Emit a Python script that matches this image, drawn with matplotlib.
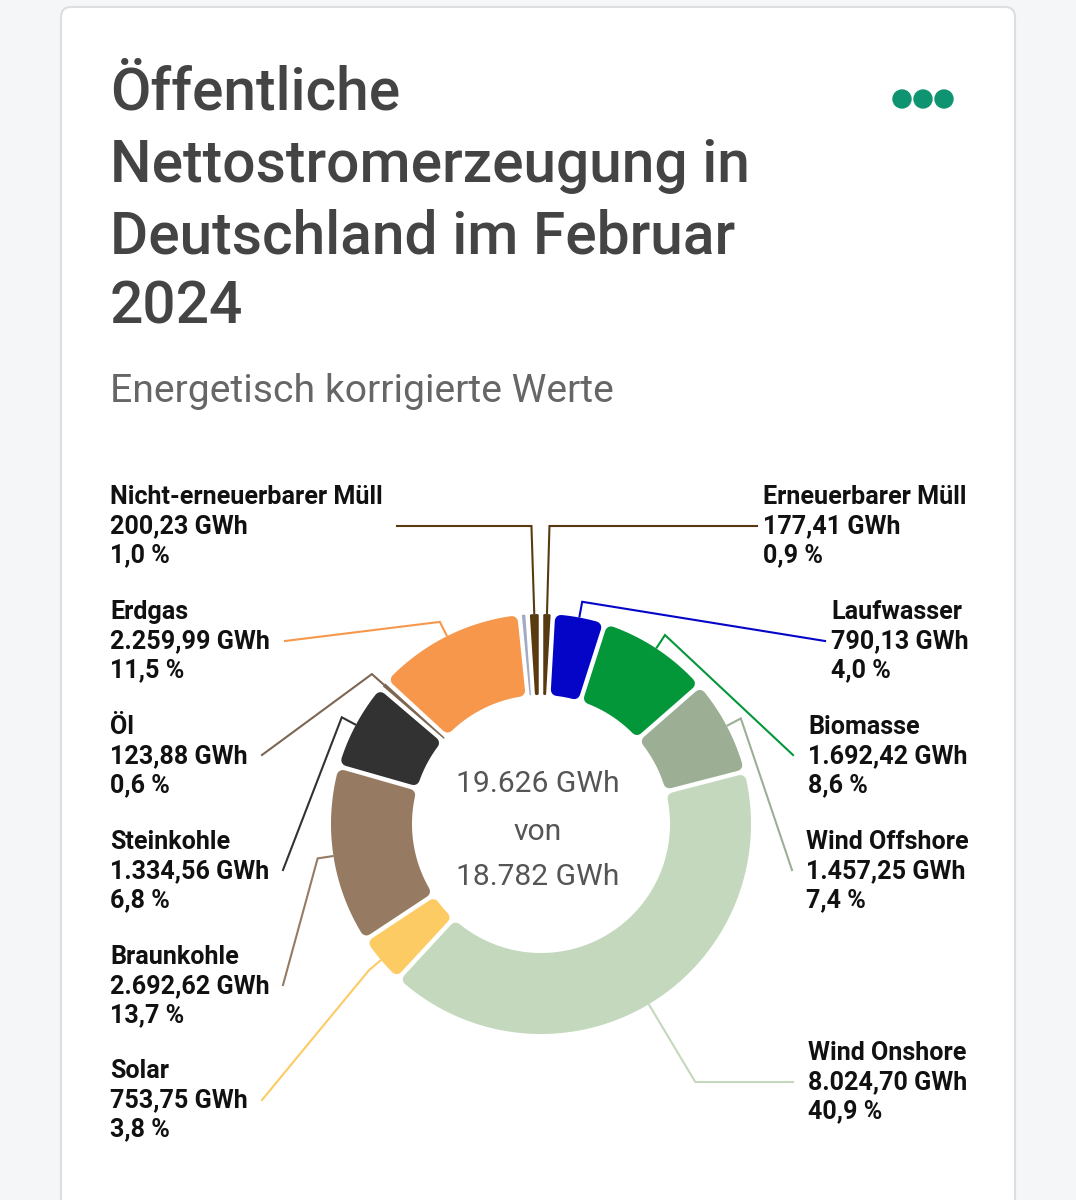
import numpy as np
import matplotlib.pyplot as plt
from matplotlib.patches import Polygon, FancyBboxPatch, Circle

plt.rcParams['font.family'] = ['Roboto', 'DejaVu Sans']

# Daten (im Uhrzeigersinn ab 12 Uhr)
namen = ['Erneuerbarer Müll', 'Laufwasser', 'Biomasse', 'Wind Offshore', 'Wind Onshore',
         'Solar', 'Braunkohle', 'Steinkohle', 'Öl', 'Erdgas', None, 'Nicht-erneuerbarer Müll']
werte = [177.41, 790.13, 1692.42, 1457.25, 8024.70,
         753.75, 2692.62, 1334.56, 123.88, 2259.99, 119.06, 200.23]
farben = ['#583a12', '#0505c8', '#03973a', '#9caf95', '#c3d8bc',
          '#fdcb63', '#967b62', '#323232', '#7d6652', '#f6974b', '#a3abc4', '#5a3b10']
vergleich = 18782

titel = ['Öffentliche', 'Nettostromerzeugung in', 'Deutschland im Februar', '2024']
untertitel = 'Energetisch korrigierte Werte'

# Layout der Beschriftungen: name -> (x text, y erste zeile, anker x, anker y, modus)
label_layout = {
    'Nicht-erneuerbarer Müll': (110, 497, 397, 526, 'flat'),
    'Erdgas': (110, 612, 285, 641, 'crook'),
    'Öl': (110, 727, 262, 755, 'crook'),
    'Steinkohle': (110, 842, 283, 870, 'crook'),
    'Braunkohle': (110, 957, 283, 985, 'crook'),
    'Solar': (110, 1071, 262, 1100, 'crook'),
    'Erneuerbarer Müll': (763, 497, 757, 526, 'flat'),
    'Laufwasser': (831, 612, 825, 641, 'crook'),
    'Biomasse': (808, 727, 793, 755, 'crook'),
    'Wind Offshore': (806, 842, 792, 870, 'crook'),
    'Wind Onshore': (808, 1053, 793, 1082, 'flat'),
}

W, H = 1076, 1200
CX, CY = 541, 824
R_OUT, R_IN = 210, 129
GAP, ECKE = 4.5, 6
PT = 72 / 100  # px -> pt


def de(v, nk=2):
    s = f'{v:,.{nk}f}'
    return s.replace(',', 'X').replace('.', ',').replace('X', '.')


def punkt(a, r):
    return CX + r * np.sin(a), CY - r * np.cos(a)


def segment(a1, a2):
    mid = (a1 + a2) / 2
    halb = R_IN * np.sin((a2 - a1) / 2) - GAP / 2
    c = min(ECKE, max(halb * 0.8, 0.7))
    d = GAP / 2 + c

    def ecke(r, seite):
        off = np.arcsin(min(d / r, 1.0))
        if seite == 0:
            return min(a1 + off, mid)
        return max(a2 - off, mid)

    ro, ri = R_OUT - c, R_IN + c
    aussen = np.linspace(ecke(ro, 0), ecke(ro, 1), 80)
    innen = np.linspace(ecke(ri, 1), ecke(ri, 0), 80)
    pts = [punkt(a, ro) for a in aussen] + [punkt(a, ri) for a in innen]
    return np.array(pts), c


fig = plt.figure(figsize=(W / 100, H / 100), dpi=100, facecolor='#f5f6f8')
ax = fig.add_axes([0, 0, 1, 1])
ax.set_xlim(0, W)
ax.set_ylim(H, 0)
ax.set_aspect('equal')
ax.axis('off')

# Karte
ax.add_patch(FancyBboxPatch((61, 7), 954, 1250, boxstyle='round,pad=0,rounding_size=10',
                            fc='white', ec='#dedede', lw=1.5, zorder=0))

for y, zeile in zip([110, 182, 253, 323], titel):
    ax.text(110, y, zeile, fontsize=42.2, fontweight='medium', color='#444444', va='baseline')
ax.text(110, 402, untertitel, fontsize=28.2, color='#666666', va='baseline')

for x in [902, 923, 944]:
    ax.add_patch(Circle((x, 99), 9, color='#0f9471'))

# Donut
gesamt = sum(werte)
grenzen = np.concatenate([[0], np.cumsum(werte)]) / gesamt * 2 * np.pi
for i, (name, wert, farbe) in enumerate(zip(namen, werte, farben)):
    a1, a2 = grenzen[i], grenzen[i + 1]
    pts, c = segment(a1, a2)
    ax.add_patch(Polygon(pts, closed=True, fc=farbe, ec=farbe, lw=2 * c * PT,
                         joinstyle='round', zorder=3))
    if name is None:
        continue
    tx, ty, ax_, ay, modus = label_layout[name]
    mid = (a1 + a2) / 2
    start = punkt(mid, R_OUT + 1)
    if modus == 'flat':
        r_knick = (CY - ay) / np.cos(mid) if abs(np.cos(mid)) > 0.3 else R_OUT + 16
    else:
        r_knick = R_OUT + 16
    knick = punkt(mid, r_knick)
    ax.plot([start[0], knick[0], ax_], [start[1], knick[1], ay], color=farbe, lw=1.5,
            solid_joinstyle='miter', zorder=2)
    zeilen = [name, de(wert) + ' GWh', de(wert / gesamt * 100, 1) + ' %']
    for k, z in enumerate(zeilen):
        ax.text(tx, ty + 29 * k, z, fontsize=18.1, fontweight='bold', color='#111111',
                va='center', ha='left')

# Text in der Mitte
for y, z in zip([792, 840, 885], [de(gesamt, 0) + ' GWh', 'von', de(vergleich, 0) + ' GWh']):
    ax.text(CX - 3, y, z, fontsize=21.6, color='#555555', ha='center', va='baseline')

fig.savefig('out.png', dpi=100, facecolor=fig.get_facecolor())
